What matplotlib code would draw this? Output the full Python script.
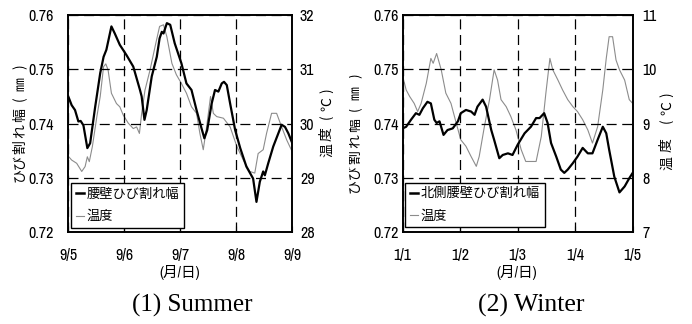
import matplotlib
matplotlib.use("Agg")
import matplotlib.pyplot as plt
from matplotlib.lines import Line2D
from matplotlib.transforms import Bbox, TransformedBbox

# ---- Summer (days since 9/5 00:00) ----
summer_crack_day = [0.00, 0.06, 0.12, 0.18, 0.22, 0.27, 0.34, 0.39, 0.48, 0.57, 0.63, 0.68,
                    0.77, 0.83, 0.92, 1.04, 1.16, 1.28, 1.31, 1.36, 1.40, 1.49, 1.58, 1.63,
                    1.67, 1.70, 1.76, 1.82, 1.90, 2.02, 2.11, 2.20, 2.29, 2.38, 2.43, 2.48,
                    2.56, 2.62, 2.68, 2.74, 2.78, 2.83, 2.89, 2.98, 3.07, 3.18, 3.30, 3.36,
                    3.42, 3.48, 3.51, 3.57, 3.66, 3.75, 3.81, 3.87, 3.93, 4.00]
summer_crack_mm = [0.7450, 0.7434, 0.7425, 0.7404, 0.7405, 0.7397, 0.7355, 0.7364, 0.7431,
                   0.7493, 0.7523, 0.7536, 0.7579, 0.7566, 0.7545, 0.7526, 0.7505, 0.7462,
                   0.7450, 0.7407, 0.7425, 0.7487, 0.7523, 0.7557, 0.7569, 0.7566, 0.7585,
                   0.7582, 0.7548, 0.7511, 0.7474, 0.7462, 0.7425, 0.7391, 0.7373, 0.7388,
                   0.7437, 0.7462, 0.7459, 0.7474, 0.7477, 0.7471, 0.7437, 0.7388, 0.7355,
                   0.7321, 0.7299, 0.7256, 0.7293, 0.7312, 0.7305, 0.7327, 0.7358, 0.7382,
                   0.7398, 0.7394, 0.7382, 0.7364]
summer_temp_day = [0.00, 0.06, 0.15, 0.24, 0.30, 0.34, 0.375, 0.43, 0.51, 0.57, 0.63, 0.67,
                   0.71, 0.77, 0.86, 0.92, 0.98, 1.07, 1.16, 1.22, 1.27, 1.31, 1.37, 1.46,
                   1.55, 1.63, 1.70, 1.76, 1.85, 1.93, 2.02, 2.11, 2.20, 2.29, 2.35, 2.41,
                   2.47, 2.54, 2.59, 2.65, 2.77, 2.89, 3.01, 3.125, 3.24, 3.33, 3.39, 3.48,
                   3.54, 3.63, 3.72, 3.81, 3.90, 4.00]
summer_temp_c = [29.40, 29.33, 29.27, 29.12, 29.21, 29.39, 29.30, 29.58, 30.13, 30.50, 31.05,
                 31.10, 30.99, 30.56, 30.37, 30.31, 30.16, 30.01, 29.91, 29.94, 29.82, 30.19,
                 30.62, 30.99, 31.42, 31.79, 31.82, 31.60, 31.11, 30.90, 30.74, 30.56, 30.31,
                 30.19, 29.82, 29.52, 29.94, 30.50, 30.19, 30.13, 30.10, 29.94, 29.58, 29.33,
                 29.12, 29.09, 29.45, 29.52, 29.82, 30.19, 30.19, 29.94, 29.70, 29.48]

# ---- Winter (days since 1/1 00:00) ----
winter_crack_day = [0.00, 0.06, 0.145, 0.23, 0.29, 0.35, 0.43, 0.49, 0.55, 0.59, 0.64, 0.71,
                    0.78, 0.87, 0.96, 1.01, 1.10, 1.19, 1.25, 1.30, 1.39, 1.45, 1.54, 1.59,
                    1.68, 1.74, 1.83, 1.91, 2.00, 2.12, 2.23, 2.32, 2.38, 2.46, 2.52, 2.58,
                    2.67, 2.75, 2.81, 2.87, 2.96, 3.04, 3.13, 3.22, 3.30, 3.39, 3.48, 3.54,
                    3.59, 3.68, 3.77, 3.86, 3.94, 4.00]
winter_crack_mm = [0.7391, 0.7394, 0.7407, 0.7419, 0.7416, 0.7428, 0.7440, 0.7437, 0.7407,
                   0.7401, 0.7404, 0.7379, 0.7388, 0.7391, 0.7404, 0.7419, 0.7425, 0.7422,
                   0.7416, 0.7431, 0.7444, 0.7431, 0.7388, 0.7370, 0.7336, 0.7342, 0.7345,
                   0.7342, 0.7361, 0.7382, 0.7394, 0.7410, 0.7410, 0.7419, 0.7401, 0.7364,
                   0.7339, 0.7315, 0.7309, 0.7315, 0.7327, 0.7339, 0.7355, 0.7345, 0.7345,
                   0.7370, 0.7394, 0.7382, 0.7352, 0.7302, 0.7273, 0.7284, 0.7299, 0.7309]
winter_temp_day = [0.00, 0.06, 0.12, 0.20, 0.26, 0.32, 0.41, 0.49, 0.53, 0.59, 0.67, 0.75,
                   0.84, 0.93, 1.01, 1.10, 1.19, 1.28, 1.33, 1.42, 1.51, 1.59, 1.65, 1.71,
                   1.80, 1.88, 1.97, 2.06, 2.14, 2.23, 2.32, 2.41, 2.49, 2.56, 2.61, 2.70,
                   2.78, 2.87, 2.96, 3.04, 3.13, 3.22, 3.30, 3.39, 3.48, 3.54, 3.59, 3.65,
                   3.71, 3.77, 3.86, 3.94, 4.00]
winter_temp_c = [9.87, 9.62, 9.50, 9.37, 9.22, 9.37, 9.74, 10.20, 10.11, 10.29, 9.99, 9.56,
                 9.37, 9.01, 8.70, 8.58, 8.39, 8.21, 8.39, 8.94, 9.44, 9.99, 9.80, 9.44,
                 9.31, 9.13, 8.88, 8.52, 8.30, 8.30, 8.30, 8.76, 9.56, 10.20, 9.99, 9.80,
                 9.62, 9.44, 9.31, 9.22, 9.07, 8.88, 8.64, 8.94, 9.62, 10.20, 10.60, 10.60,
                 10.17, 9.99, 9.80, 9.44, 9.37]

summer_ticks = ["9/5", "9/6", "9/7", "9/8", "9/9"]
winter_ticks = ["1/1", "1/2", "1/3", "1/4", "1/5"]
crack_ticks = [0.72, 0.73, 0.74, 0.75, 0.76]
summer_temp_ticks = [28, 29, 30, 31, 32]
winter_temp_ticks = [7, 8, 9, 10, 11]

NUM_FONT = ["Archivo Narrow", "Liberation Sans", "DejaVu Sans"]
JP_FONT = ["Noto Sans CJK JP", "DejaVu Sans"]
MIX_FONT = ["Archivo Narrow", "Noto Sans CJK JP", "DejaVu Sans"]
SERIF = ["Liberation Serif", "DejaVu Serif"]

W, H = 692, 324
fig = plt.figure(figsize=(W / 100, H / 100), dpi=100)


def px_axes(left, top, right, bottom):
    return fig.add_axes([left / W, 1 - bottom / H, (right - left) / W, (bottom - top) / H])


def clipped_text(x, y, s, clip_left=0, clip_right=W, **kw):
    t = fig.text(x / W, 1 - y / H, s, **kw)
    t.set_clip_box(TransformedBbox(Bbox.from_extents(clip_left / W, 0, clip_right / W, 1),
                                   fig.transFigure))
    t.set_clip_on(True)
    return t


def vertical_label(x, chars, ys, size, clip_left=0, clip_right=W):
    """Rotated axis title, one glyph at a time so the spacing can be set."""
    for ch, y in zip(chars, ys):
        clipped_text(x, y, ch, clip_left=clip_left, clip_right=clip_right,
                     rotation=90, ha="center", va="center", family=JP_FONT, size=size)


def panel(box, cday, cval, tday, tval, xticks, tticks, crack_label,
          lpad, rpad, legend_anchor):
    ax = px_axes(*box)
    ax2 = ax.twinx()
    ax.set_zorder(ax2.get_zorder() + 1)
    ax.patch.set_visible(False)

    ax2.plot(tday, tval, color="#8c8c8c", lw=0.8)
    ax.plot(cday, cval, color="black", lw=1.6)

    ax.set_xlim(0, 4)
    ax.set_ylim(0.72, 0.76)
    ax2.set_ylim(tticks[0], tticks[-1])

    ax.set_xticks(range(5))
    ax.set_xticklabels(xticks)
    ax.set_yticks(crack_ticks)
    ax.set_yticklabels([f"{v:.2f}" for v in crack_ticks])
    ax2.set_yticks(tticks)
    ax2.set_yticklabels([str(v) for v in tticks])

    for a in (ax, ax2):
        for sp in a.spines.values():
            sp.set_linewidth(1.2)
            sp.set_color("black")
    ax.tick_params(axis="x", direction="in", length=4, pad=11.5, labelsize=11.5)
    ax.tick_params(axis="y", direction="in", length=0, pad=lpad, labelsize=11.5)
    ax2.tick_params(axis="y", direction="in", length=0, pad=rpad, labelsize=11.5)
    for lab in ax.get_xticklabels() + ax.get_yticklabels() + ax2.get_yticklabels():
        lab.set_family(NUM_FONT)

    ax.grid(True, color="black", linestyle=(0, (8, 4.5)), linewidth=0.9)

    handles = [Line2D([], [], color="black", lw=1.8),
               Line2D([], [], color="#8c8c8c", lw=0.8)]
    leg = ax.legend(handles, [crack_label, "温度"], loc="lower left",
                    bbox_to_anchor=legend_anchor, borderaxespad=0,
                    prop={"family": JP_FONT, "size": 9.5},
                    handlelength=0.6, handletextpad=0.25, labelspacing=0.7,
                    borderpad=0.35, fancybox=False, framealpha=1,
                    edgecolor="black")
    leg.get_frame().set_linewidth(1.0)
    return ax, ax2


panel((68.3, 15, 292.3, 232.3), summer_crack_day, summer_crack_mm,
      summer_temp_day, summer_temp_c, summer_ticks, summer_temp_ticks,
      "腰壁ひび割れ幅", lpad=10.5, rpad=5.5, legend_anchor=(0.012, 0.02))
panel((402.7, 15, 632.7, 232), winter_crack_day, winter_crack_mm,
      winter_temp_day, winter_temp_c, winter_ticks, winter_temp_ticks,
      "北側腰壁ひび割れ幅", lpad=3.0, rpad=7.0, legend_anchor=(0.01, 0.023))

# axis titles, glyphs listed bottom to top
width_chars = ["ひ", "び", "割", "れ", "幅", "(", "㎜", ")"]
temp_chars = ["温", "度", "(", "℃", ")"]
vertical_label(20, width_chars, [175, 162, 147, 131, 115, 99, 84, 67], 10)
vertical_label(355, width_chars, [186, 172, 157, 141, 125, 109, 93, 76], 10, clip_left=349)
vertical_label(327, temp_chars, [150, 134, 117, 104, 91], 10, clip_right=333)
vertical_label(667, temp_chars, [163, 145, 121, 108, 95], 10, clip_right=673)

fig.text(180 / W, 1 - 273 / H, "(月/日)", ha="center", va="center", family=MIX_FONT, size=10.5)
fig.text(517 / W, 1 - 273 / H, "(月/日)", ha="center", va="center", family=MIX_FONT, size=10.5)

fig.text(192 / W, 1 - 305 / H, "(1) Summer", ha="center", va="center", family=SERIF, size=18)
fig.text(531 / W, 1 - 305 / H, "(2) Winter", ha="center", va="center", family=SERIF, size=18.5)

fig.savefig("out.png", dpi=100)
